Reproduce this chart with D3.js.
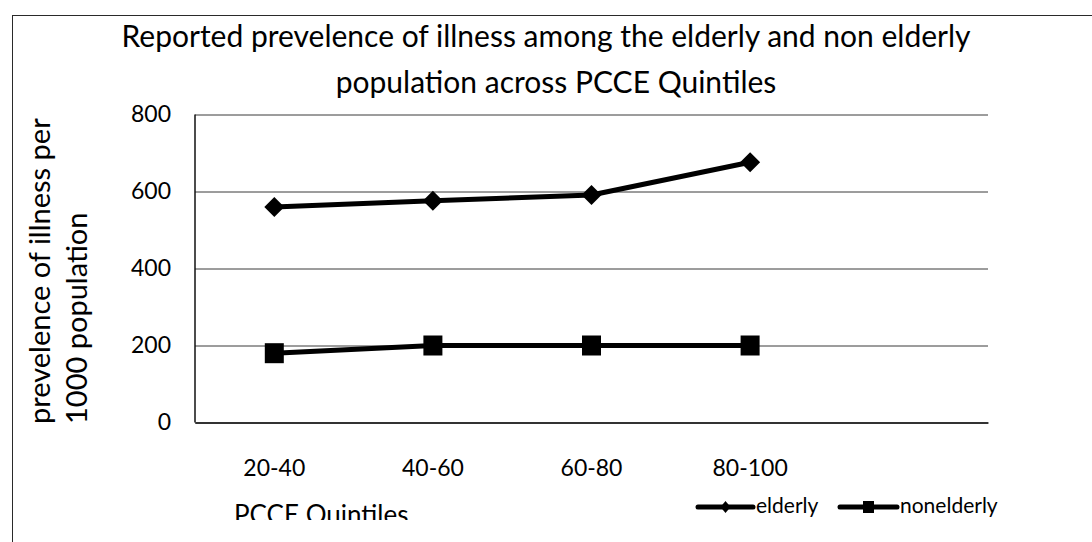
<!DOCTYPE html>
<html>
<head>
<meta charset="utf-8">
<script src="https://cdn.jsdelivr.net/npm/d3@7"></script>
<style>
  html, body { margin: 0; padding: 0; background: #fff; }
  svg { display: block; font-family: Lato, "Noto Sans", sans-serif; }
</style>
</head>
<body>
<svg id="chart" width="1092" height="542"></svg>
<script>
// PCCE quintile categories (the axis keeps one extra empty slot on the right)
const categories = ["20-40", "40-60", "60-80", "80-100"];
const axisSlots = [...categories, ""];

// Reported prevalence of illness per 1000 population
const elderly = [560, 576, 591, 676];
const nonelderly = [180, 200, 200, 200];

const yTicks = [0, 200, 400, 600, 800];
const titleLines = [
  "Reported prevelence of illness among the elderly and non elderly",
  "population across PCCE Quintiles"
];
const yTitleLines = ["prevelence of illness  per", "1000 population"];
const xTitle = "PCCE Quintiles";
const seriesNames = ["elderly", "nonelderly"];

const svg = d3.select("#chart");

// chart area frame
svg.append("rect")
  .attr("x", 12.5).attr("y", 15.5)
  .attr("width", 1200).attr("height", 700)
  .attr("fill", "#fff").attr("stroke", "#2a2a2a").attr("stroke-width", 1);

const plot = { left: 195, right: 988, top: 114.5, bottom: 422.5 };

const x = d3.scaleBand().domain(axisSlots).range([plot.left, plot.right]);
const cx = d => x(d) + x.bandwidth() / 2;
const y = d3.scaleLinear().domain([0, 800]).range([plot.bottom, plot.top]);

// title
svg.append("g").selectAll("text")
  .data(titleLines)
  .join("text")
  .attr("x", (d, i) => i === 0 ? 546 : 556)
  .attr("y", (d, i) => 47 + i * 46)
  .attr("text-anchor", "middle")
  .attr("font-size", 30)
  .attr("fill", "#000")
  .text(d => d);

// value axis with gridlines
const yAxis = svg.append("g")
  .attr("transform", `translate(${plot.left},0)`)
  .call(d3.axisLeft(y).tickValues(yTicks)
    .tickSize(-(plot.right - plot.left)).tickPadding(24));
yAxis.select(".domain").remove();
yAxis.selectAll(".tick line").attr("stroke", "#3a3a3a").attr("stroke-width", 1);
yAxis.selectAll(".tick text")
  .attr("font-size", 23).attr("fill", "#000")
  .attr("font-family", "Lato, sans-serif");

// vertical axis line
svg.append("line")
  .attr("x1", plot.left).attr("x2", plot.left)
  .attr("y1", y(800)).attr("y2", y(0))
  .attr("stroke", "#111").attr("stroke-width", 1.5);

// category axis
const xAxis = svg.append("g")
  .attr("transform", `translate(0,${plot.bottom})`)
  .call(d3.axisBottom(x).tickSize(0).tickPadding(37));
xAxis.select(".domain").attr("stroke", "#111").attr("stroke-width", 1.5);
xAxis.selectAll(".tick text")
  .attr("font-size", 23).attr("fill", "#000")
  .attr("font-family", "Lato, sans-serif");

// value-axis title: two lines, both starting from the same lower edge
const yTitle = svg.append("g")
  .attr("transform", "translate(0,424) rotate(-90)");
yTitle.selectAll("text")
  .data(yTitleLines)
  .join("text")
  .attr("x", 0)
  .attr("y", (d, i) => 50 + i * 37)
  .attr("text-anchor", "start")
  .attr("font-size", 29)
  .attr("fill", "#000")
  .text(d => d);

// category-axis title, cut off at the lower edge of its box
svg.append("clipPath").attr("id", "xTitleClip")
  .append("rect").attr("x", 0).attr("y", 480).attr("width", 600).attr("height", 40);
svg.append("text")
  .attr("clip-path", "url(#xTitleClip)")
  .attr("x", 234).attr("y", 524)
  .attr("font-size", 26)
  .attr("fill", "#000")
  .text(xTitle);

// series
const line = d3.line()
  .x((d, i) => cx(categories[i]))
  .y(d => y(d));

const series = [
  { name: seriesNames[0], values: elderly },
  { name: seriesNames[1], values: nonelderly }
];

series.forEach(s => {
  svg.append("path")
    .datum(s.values)
    .attr("d", line)
    .attr("fill", "none")
    .attr("stroke", "#000")
    .attr("stroke-width", 5)
    .attr("stroke-linejoin", "round");
});

// diamonds
svg.append("g").selectAll("path")
  .data(elderly)
  .join("path")
  .attr("transform", (d, i) => `translate(${cx(categories[i])},${y(d)})`)
  .attr("d", "M0,-10L10,0L0,10L-10,0Z")
  .attr("fill", "#000");

// squares
svg.append("g").selectAll("rect")
  .data(nonelderly)
  .join("rect")
  .attr("x", (d, i) => cx(categories[i]) - 9.5)
  .attr("y", d => y(d) - 10)
  .attr("width", 19).attr("height", 20)
  .attr("fill", "#000");

// legend
const legend = svg.append("g").attr("transform", "translate(0,507)");
const legendItems = [
  { name: seriesNames[0], x0: 698, x1: 753, shape: "diamond" },
  { name: seriesNames[1], x0: 840, x1: 897, shape: "square" }
];
legendItems.forEach(it => {
  legend.append("line")
    .attr("x1", it.x0).attr("x2", it.x1)
    .attr("y1", 0).attr("y2", 0)
    .attr("stroke", "#000").attr("stroke-width", 5)
    .attr("stroke-linecap", "round");
  const mx = (it.x0 + it.x1) / 2;
  if (it.shape === "diamond") {
    legend.append("path")
      .attr("d", `M${mx},-6L${mx + 5},0L${mx},6L${mx - 5},0Z`)
      .attr("fill", "#000");
  } else {
    legend.append("rect")
      .attr("x", mx - 5.5).attr("y", -6)
      .attr("width", 11).attr("height", 12)
      .attr("fill", "#000");
  }
  legend.append("text")
    .attr("x", it.x1 + 3).attr("y", 6)
    .attr("font-size", 21)
    .attr("fill", "#000")
    .text(it.name);
});
</script>
</body>
</html>
